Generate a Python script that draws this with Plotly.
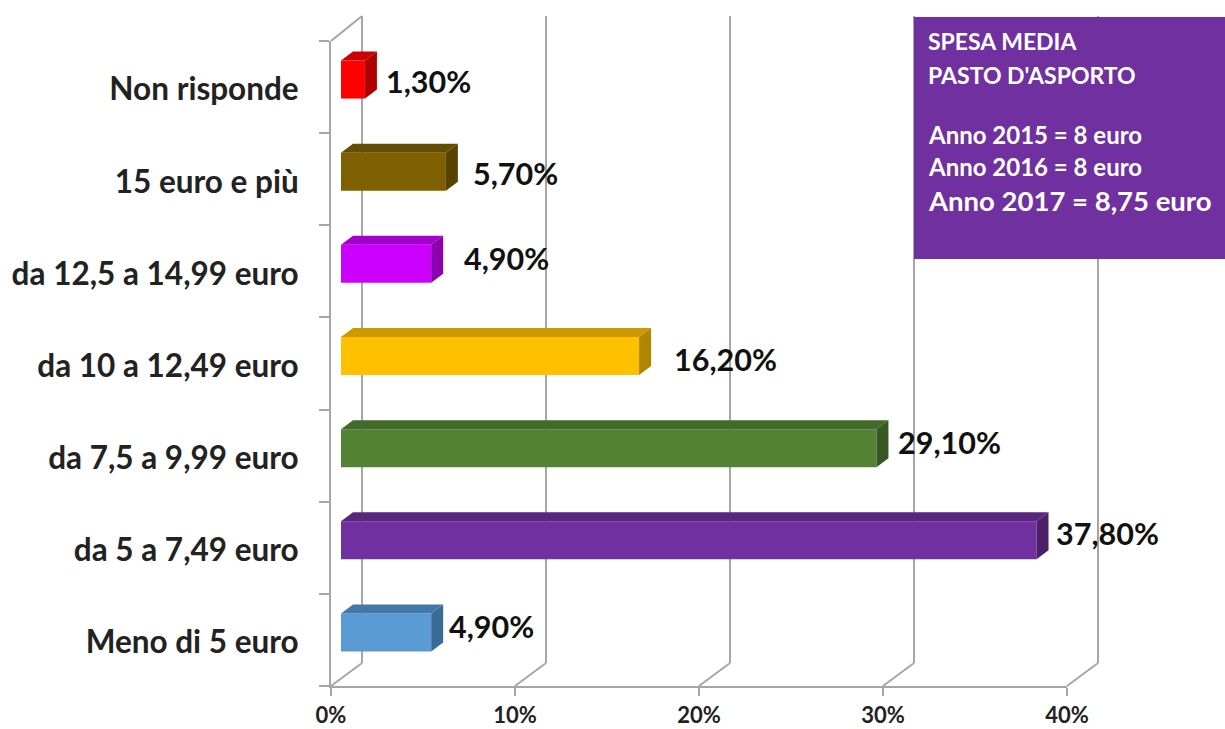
import plotly.graph_objects as go

categories = ["Meno di 5 euro", "da 5 a 7,49 euro", "da 7,5 a 9,99 euro", "da 10 a 12,49 euro",
              "da 12,5 a 14,99 euro", "15 euro e più", "Non risponde"]
values = [4.9, 37.8, 29.1, 16.2, 4.9, 5.7, 1.3]
front_colors = ["#5B9BD5", "#7030A0", "#548235", "#FFC000", "#CC00FF", "#7F6000", "#FF0000"]
top_colors = ["#4478A8", "#58267E", "#436A2A", "#CC9A00", "#A300CC", "#654D00", "#CC0000"]
side_colors = ["#3A6A96", "#4A2069", "#375723", "#B08500", "#8C00B0", "#574200", "#AF0000"]
x_ticks = [0, 10, 20, 30, 40]
x_tick_labels = ["0%", "10%", "20%", "30%", "40%"]
label_xshift = [4, 5, 8, 21, 19, 13, 7]
label_yshift = [14, 15, 14, 5, 13, 6, 6]
panel_lines = [("SPESA MEDIA", 23, 41), ("PASTO D'ASPORTO", 23, 75), ("Anno 2015 = 8 euro", 24, 134),
               ("Anno 2016 = 8 euro", 24, 166), ("Anno 2017 = 8,75 euro", 27.5, 200)]

FONT = "Lato"
L, R, T, B = 331, 1067, 41, 686      # plot box in px
PX_X = (R - L) / 40
PX_Y = (B - T) / 7
BASE = 10 / PX_X
DX, DY = 12 / PX_X, 9 / PX_Y
HEIGHT = 38 / PX_Y
LIFT = 7.5 / PX_Y
WALL_X, WALL_Y = 31, 24
GRID = "#A6A6A6"

fig = go.Figure()
fig.add_trace(go.Bar(
    x=values, y=list(range(7)), base=BASE, orientation="h", width=HEIGHT, offset=LIFT - HEIGHT / 2,
    marker=dict(color=front_colors, line=dict(width=0)), hoverinfo="skip", showlegend=False))

for i, v in enumerate(values):
    x0, x1 = BASE, BASE + v
    y0, y1 = i + LIFT - HEIGHT / 2, i + LIFT + HEIGHT / 2
    fig.add_trace(go.Scatter(x=[x0, x0 + DX, x1 + DX, x1, x0], y=[y1, y1 + DY, y1 + DY, y1, y1],
                             mode="lines", fill="toself", fillcolor=top_colors[i], line=dict(width=0),
                             hoverinfo="skip", showlegend=False, cliponaxis=False))
    fig.add_trace(go.Scatter(x=[x1, x1 + DX, x1 + DX, x1, x1], y=[y0, y0 + DY, y1 + DY, y1, y0],
                             mode="lines", fill="toself", fillcolor=side_colors[i], line=dict(width=0),
                             hoverinfo="skip", showlegend=False, cliponaxis=False))
    fig.add_annotation(x=x1 + DX, y=i, text="<b>" + f"{v:.2f}".replace(".", ",") + "%</b>", showarrow=False,
                       xanchor="left", yanchor="middle", xshift=label_xshift[i], yshift=label_yshift[i],
                       font=dict(family=FONT, size=30.5, color="#111111"))

def pap_x(px):
    return (px - L) / (R - L)

def pap_y(py):
    return (B - py) / (B - T)

shapes = []
line = dict(color=GRID, width=2)
for t in x_ticks:
    fx = L + t * PX_X
    shapes.append(dict(type="line", xref="paper", yref="paper", layer="below", line=line,
                       x0=pap_x(fx), y0=pap_y(B), x1=pap_x(fx + WALL_X), y1=pap_y(B - WALL_Y + 1)))
    shapes.append(dict(type="line", xref="paper", yref="paper", layer="below", line=line,
                       x0=pap_x(fx + WALL_X), y0=pap_y(B - WALL_Y + 1), x1=pap_x(fx + WALL_X), y1=pap_y(T - WALL_Y - 1)))
shapes.append(dict(type="line", xref="paper", yref="paper", layer="below", line=line,
                   x0=pap_x(L), y0=pap_y(T), x1=pap_x(L + WALL_X), y1=pap_y(T - WALL_Y - 1)))
shapes.append(dict(type="rect", xref="paper", yref="paper", layer="above", fillcolor="#7030A0",
                   line=dict(width=0), x0=pap_x(914), x1=pap_x(1225), y0=pap_y(259), y1=pap_y(17)))

for text, size, py in panel_lines:
    fig.add_annotation(xref="paper", yref="paper", x=pap_x(926), y=pap_y(py), text="<b>" + text + "</b>",
                       showarrow=False, xanchor="left", yanchor="middle",
                       font=dict(family=FONT, size=size, color="#FFFFFF"))

fig.update_layout(
    width=1225, height=729, margin=dict(l=L, r=1225 - R, t=T, b=729 - B, autoexpand=False),
    paper_bgcolor="#FFFFFF", plot_bgcolor="#FFFFFF", showlegend=False, shapes=shapes,
    xaxis=dict(range=[0, 40], tickvals=x_ticks, ticktext=x_tick_labels, ticks="outside", ticklen=8, tickcolor=GRID,
               tickwidth=2, showgrid=False, zeroline=False, showline=True, linecolor=GRID, linewidth=2,
               ticklabelstandoff=1,
               tickfont=dict(family=FONT, size=22, color="#222222", weight="bold")),
    yaxis=dict(range=[-0.5, 6.5], tickvals=[i - 0.025 for i in range(7)], ticktext=categories, ticks="", showgrid=False,
               zeroline=False, showline=True, linecolor=GRID, linewidth=2, ticklabelstandoff=24,
               minor=dict(tickvals=[i - 0.5 for i in range(8)], ticks="outside", ticklen=10, tickcolor=GRID,
                          tickwidth=2, showgrid=False),
               tickfont=dict(family=FONT, size=31.5, color="#222222", weight="bold")),
)
fig.write_html("out.html", config={"displayModeBar": False},
               post_script="document.body.style.margin='0';document.body.style.overflow='hidden';")
